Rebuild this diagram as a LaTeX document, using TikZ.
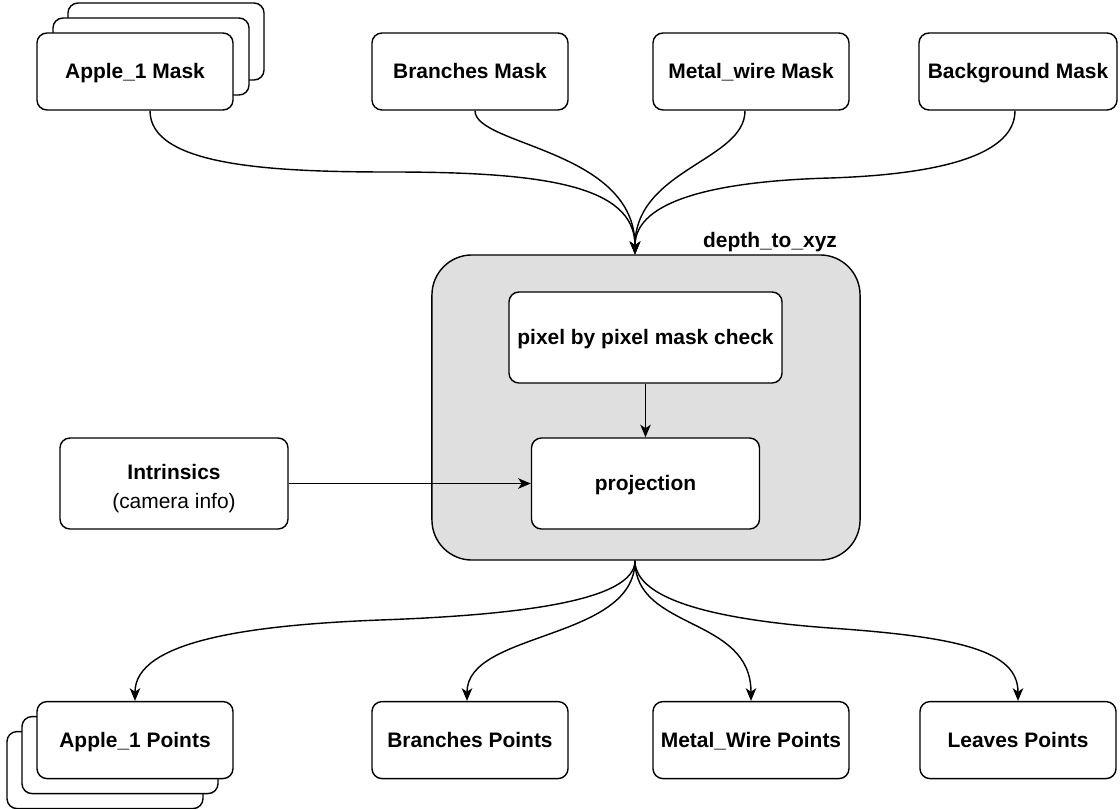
\documentclass[tikz,border=0pt]{standalone}
\usepackage{fontspec}
\setmainfont{Liberation Sans}
\usetikzlibrary{arrows.meta, positioning}

\begin{document}
\begin{tikzpicture}[
    x=0.025cm, y=-0.025cm,
    node distance=14.75cm,
    base/.style={rectangle, draw, rounded corners=0.25cm, line width=1pt, fill=white, minimum width=4.9cm, minimum height=1.925cm, align=center, font=\fontsize{14.9}{20.5}\selectfont\bfseries},
    box/.style={base, text height=1em, text depth=0pt},
    innerbox/.style={box, minimum height=2.275cm},
    group/.style={rectangle, draw, rounded corners=1cm, line width=1pt, fill=gray!25, minimum width=10.7cm, minimum height=7.625cm},
    arrow/.style={-{Stealth[length=9pt, width=7.5pt, inset=2.5pt]}, line width=1pt}
]
    \useasboundingbox (0,0) rectangle (1120,809);

    % Masks (top row)
    \node[box] (am3) at (166,41.5) {};
    \node[box] (am2) at (151,56.5) {};
    \node[box] (am) at (135,71.5) {Apple\_1 Mask};
    \node[box] (bm) at (470,71.5) {Branches Mask};
    \node[box] (mm) at (751,71.5) {Metal\_wire Mask};
    \node[box, minimum width=4.95cm] (gm) at (1018,71.5) {Background Mask};

    % depth_to_xyz block
    \node[group] (dxyz) at (646,407.5) {};
    \node[font=\fontsize{14.9}{18}\selectfont\bfseries, anchor=base] (dlabel) at (770,247) {depth\_to\_xyz};
    \node[innerbox, minimum width=6.825cm] (check) at (645.5,337.5) {pixel by pixel mask check};
    \node[innerbox, minimum width=5.7cm] (proj) at (645.5,483.5) {projection};
    \node[base, minimum width=5.7cm, minimum height=2.275cm, text height=36pt, text depth=0pt] (intr) at (174,483.5) {Intrinsics\\\mdseries(camera info)};

    % Points (bottom row)
    \node[box, below=of am, xshift=-0.75cm, yshift=-0.75cm] (ap3) {};
    \node[box, below=of am, xshift=-0.375cm, yshift=-0.375cm] (ap2) {};
    \node[box, below=of am] (ap) {Apple\_1 Points};
    \node[box, below=of bm] (bp) {Branches Points};
    \node[box, below=of mm] (mp) {Metal\_Wire Points};
    \node[box, below=of gm] (lp) {Leaves Points};

    % Arrows into depth_to_xyz
    \draw[arrow] ([shift={(15,0)}]am.south) .. controls +(0,55) and +(-120,0) .. (390,172)
        .. controls +(150,0) and +(0,-70) .. ([shift={(-11,0)}]dxyz.north);
    \draw[arrow] ([shift={(5,0)}]bm.south) .. controls +(0,35) and +(0,-105) .. ([shift={(-11,0)}]dxyz.north);
    \draw[arrow] ([shift={(-6,0)}]mm.south) .. controls +(0,50) and +(0,-85) .. ([shift={(-11,0)}]dxyz.north);
    \draw[arrow] ([shift={(-3,0)}]gm.south) .. controls +(0,50) and +(90,-3) .. (830,178)
        .. controls +(-110,3) and +(0,-55) .. ([shift={(-11,0)}]dxyz.north);

    % Inner arrows
    \draw[arrow] (check) -- (proj);
    \draw[arrow] (intr) -- (proj);

    % Arrows out of depth_to_xyz
    \draw[arrow] ([shift={(-11,0)}]dxyz.south) .. controls +(0,40) and +(140,-5) .. (380,620)
        .. controls +(-130,5) and +(0,-60) .. (ap.north);
    \draw[arrow] ([shift={(-11,0)}]dxyz.south) .. controls +(0,80) and +(0,-70) .. ([shift={(-3,0)}]bp.north);
    \draw[arrow] ([shift={(-11,0)}]dxyz.south) .. controls +(0,70) and +(0,-85) .. (mp.north);
    \draw[arrow] ([shift={(-11,0)}]dxyz.south) .. controls +(0,40) and +(-110,-8) .. (830,628)
        .. controls +(130,9) and +(0,-50) .. (lp.north);
\end{tikzpicture}
\end{document}
